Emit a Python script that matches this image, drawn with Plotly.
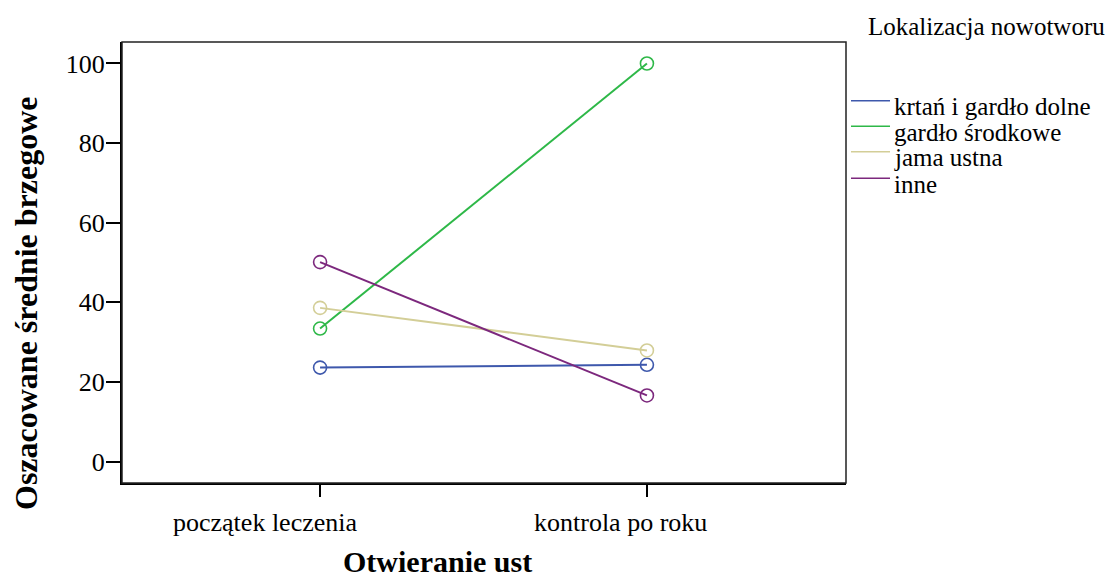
import plotly.graph_objects as go

# ---- data ----
categories = ["początek leczenia", "kontrola po roku"]
series_names = ["krtań i gardło dolne", "gardło środkowe", "jama ustna", "inne"]
krtan = [23.6, 24.3]
gardlo_srodkowe = [33.4, 100.0]
jama_ustna = [38.6, 27.9]
inne = [50.1, 16.6]
series_values = [krtan, gardlo_srodkowe, jama_ustna, inne]
colors = ["#3E58AC", "#2EB848", "#D3CE97", "#7C287D"]
y_ticks = [0, 20, 40, 60, 80, 100]

# ---- layout geometry (figure pixels; page body adds an 8px offset) ----
W, H = 1114, 576
OFF = 8
L, R, T, B = 122 - OFF, 846 - OFF, 42 - OFF, 483 - OFF
FONT = "Liberation Serif, Times New Roman, serif"


def px_x(sx):
    return (sx - OFF - L) / (R - L)


def px_y(sy):
    return (B - (sy - OFF)) / (B - T)


fig = go.Figure()
for name, vals, col in zip(series_names, series_values, colors):
    fig.add_trace(go.Scatter(
        x=categories, y=vals, name=name, mode="lines+markers",
        line=dict(color=col, width=2),
        marker=dict(symbol="circle-open", size=13, color=col, line=dict(width=1.6, color=col)),
        showlegend=False,
    ))

# manual legend (tight SPSS-like spacing)
legend_line_y = [100.7, 126.2, 151.8, 178.3]
for name, col, ly in zip(series_names, colors, legend_line_y):
    fig.add_shape(type="line", xref="paper", yref="paper",
                  x0=px_x(851), x1=px_x(890), y0=px_y(ly), y1=px_y(ly),
                  line=dict(color=col, width=1.5))
    fig.add_annotation(text=name, xref="paper", yref="paper",
                       x=px_x(892), y=px_y(ly + 6), xanchor="left", yanchor="middle",
                       showarrow=False, font=dict(family=FONT, size=25, color="black"))

fig.add_annotation(text="Lokalizacja nowotworu", xref="paper", yref="paper",
                   x=px_x(866), y=px_y(26), xanchor="left", yanchor="middle",
                   showarrow=False, font=dict(family=FONT, size=25, color="black"))

# x category labels (SPSS export places them slightly left of the ticks)
label_shift = [-55, -26]
for cat, sh in zip(categories, label_shift):
    fig.add_annotation(text=cat, xref="x", yref="paper", x=cat, y=0,
                       xanchor="center", yanchor="middle", xshift=sh, yshift=-39,
                       showarrow=False, font=dict(family=FONT, size=26, color="black"))

# axis titles
fig.add_annotation(text="<b>Oszacowane średnie brzegowe</b>", xref="paper", yref="paper",
                   x=px_x(26), y=px_y(303), xanchor="center", yanchor="middle",
                   textangle=-90, showarrow=False,
                   font=dict(family=FONT, size=32, color="black"))
fig.add_annotation(text="<b>Otwieranie ust</b>", xref="paper", yref="paper",
                   x=px_x(437), y=px_y(561), xanchor="center", yanchor="middle",
                   showarrow=False, font=dict(family=FONT, size=30, color="black"))

# plot frame
fig.add_shape(type="rect", xref="paper", yref="paper", x0=0, x1=1, y0=0, y1=1,
              line=dict(color="#222222", width=1.5), layer="above")

fig.update_layout(
    width=W, height=H,
    margin=dict(l=L, r=W - R, t=T, b=H - B, pad=0),
    paper_bgcolor="white", plot_bgcolor="white",
    font=dict(family=FONT, size=24, color="black"),
    showlegend=False,
)
fig.update_xaxes(
    type="category", categoryorder="array", categoryarray=categories,
    range=[-0.606, 1.609],
    showgrid=False, zeroline=False,
    showline=True, linecolor="black", linewidth=2,
    ticks="outside", ticklen=12, tickwidth=2, tickcolor="black",
    showticklabels=False,
)
fig.update_yaxes(
    range=[-5.4, 105.4],
    tickvals=y_ticks,
    showgrid=False, zeroline=False,
    showline=True, linecolor="black", linewidth=2,
    ticks="outside", ticklen=14, tickwidth=2, tickcolor="black",
    tickfont=dict(family=FONT, size=26, color="black"),
    ticklabelstandoff=-4,
)

fig.write_html("out.html")
